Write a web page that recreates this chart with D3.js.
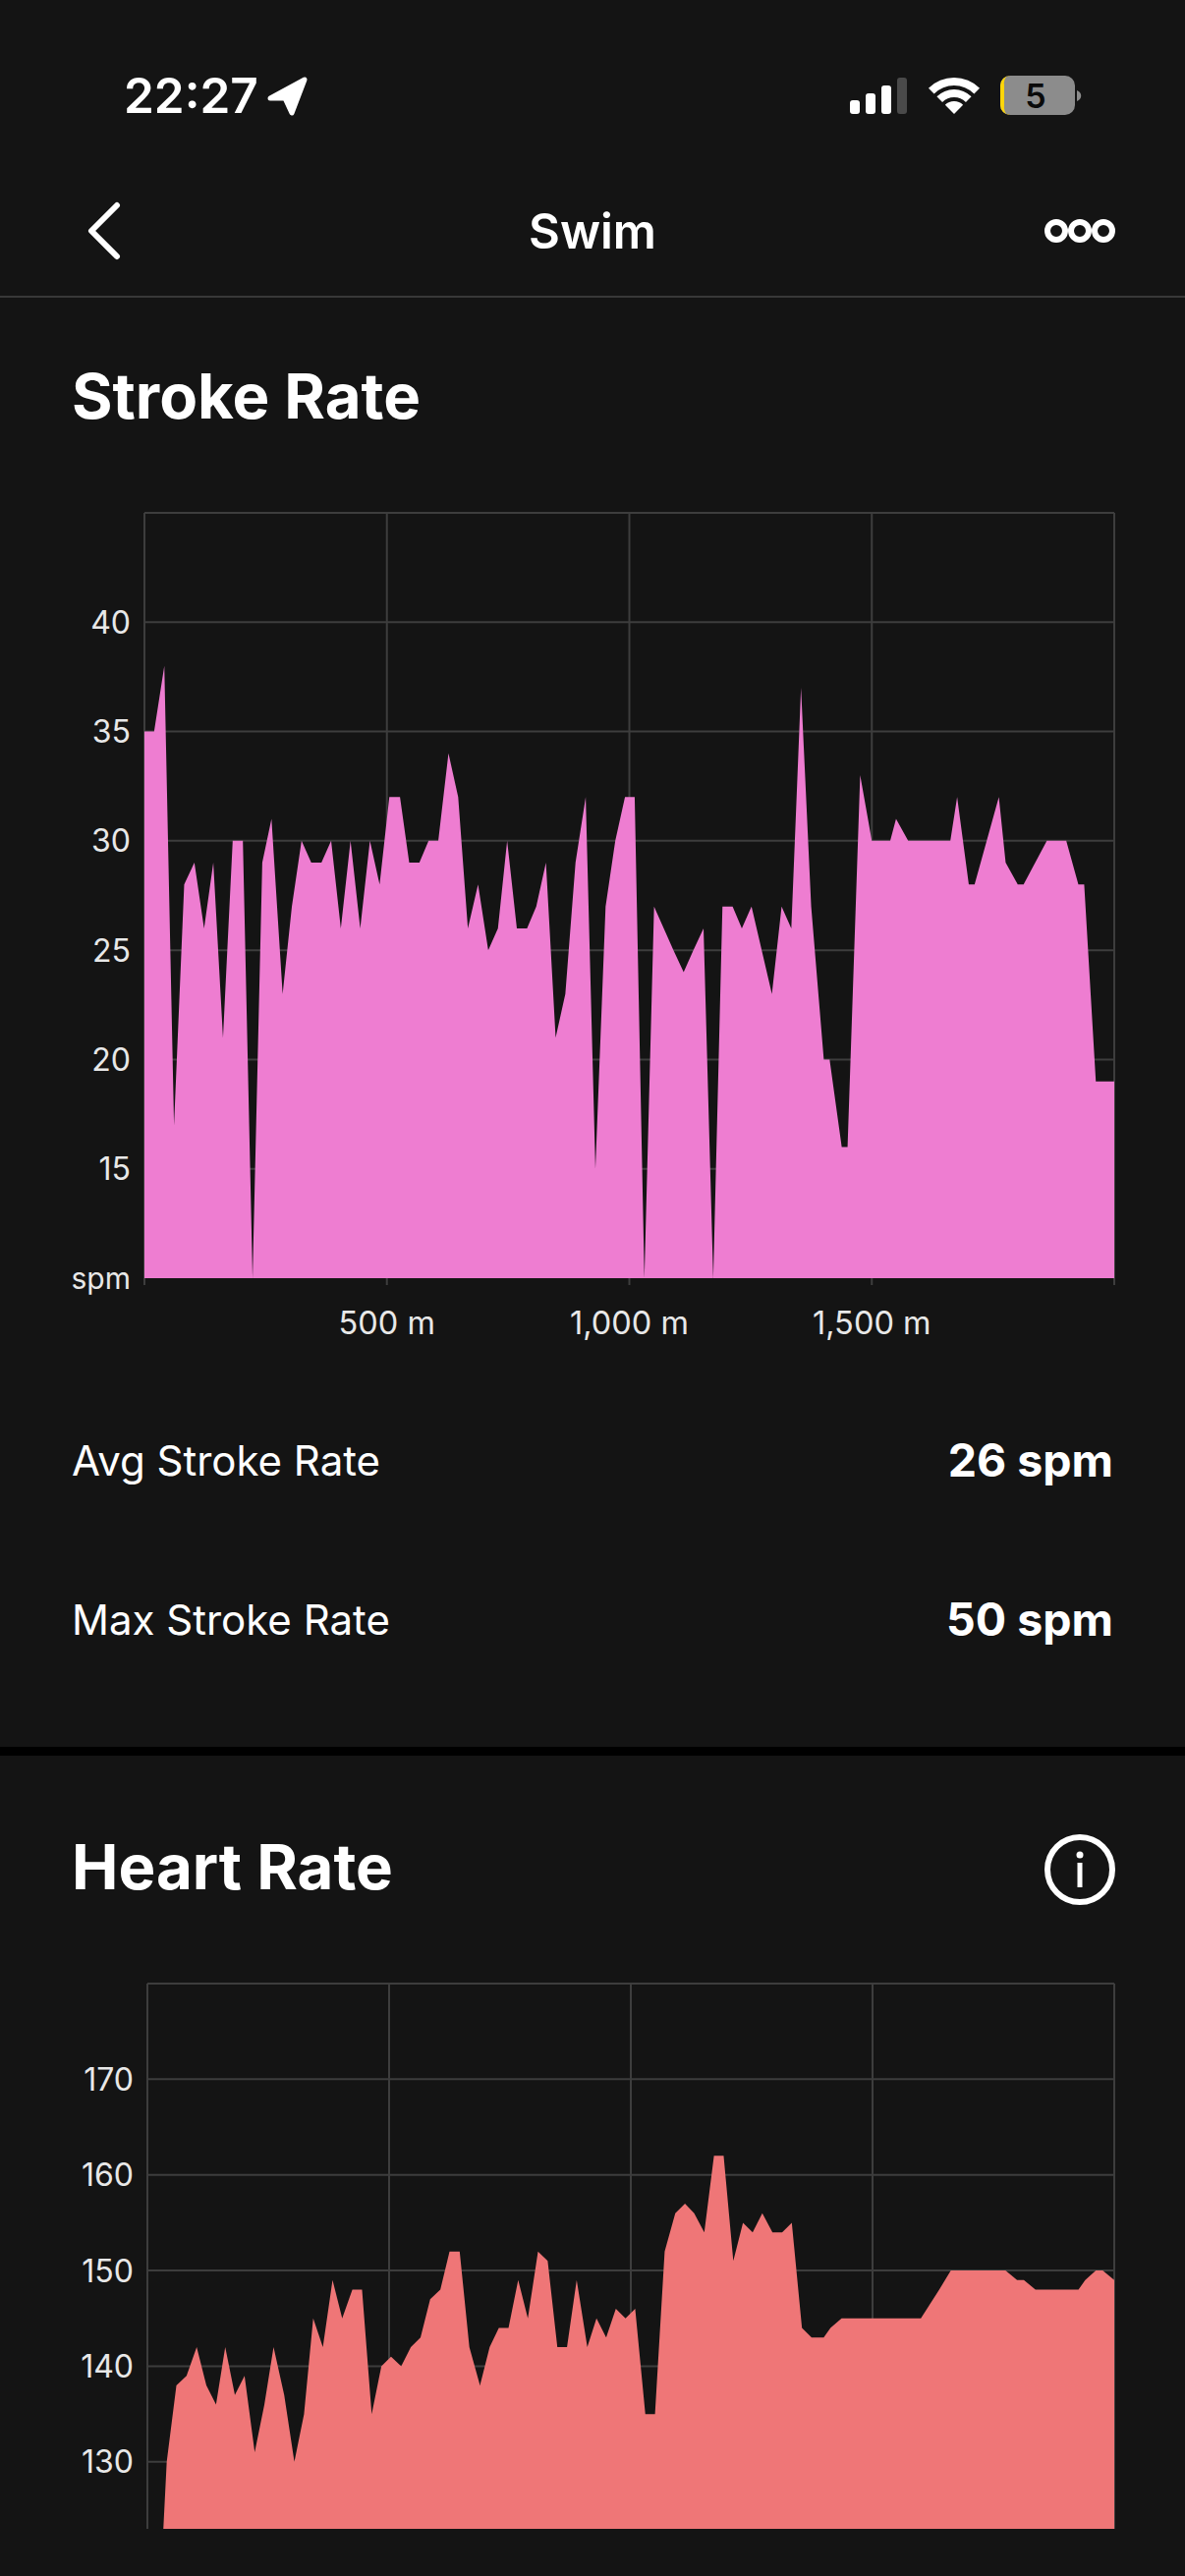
<!DOCTYPE html>
<html>
<head>
<meta charset="utf-8">
<script src="https://d3js.org/d3.v7.min.js"></script>
<style>
html, body { margin: 0; padding: 0; background: #141414; }
svg { display: block; font-family: Inter, "Noto Sans", sans-serif; }
text { fill: #fff; }
.grid line { stroke: #3d3d3d; stroke-width: 2; }
.tick-label { fill: #e8e8e8; }
</style>
</head>
<body>
<svg id="page" width="1206" height="2622"></svg>
<script>
// stroke rate (metres, spm)
const strokeDist = [0, 20, 41, 61, 82, 103, 123, 142, 162, 182, 203, 223, 243, 262, 285, 304, 324, 344, 365, 385, 405, 425, 445, 465, 485, 505, 527, 546, 567, 586, 606, 627, 647, 667, 688, 709, 729, 748, 768, 789, 808, 828, 848, 868, 889, 910, 930, 951, 971, 991, 1011, 1031, 1051, 1071, 1091, 1112, 1132, 1153, 1173, 1192, 1213, 1232, 1252, 1273, 1294, 1314, 1334, 1354, 1375, 1401, 1413, 1438, 1450, 1476, 1500, 1538, 1550, 1575, 1662, 1676, 1700, 1712, 1762, 1776, 1801, 1813, 1861, 1901, 1926, 1938, 1962, 2000];
const strokeRate = [35, 35, 38, 17, 28, 29, 26, 29, 21, 30, 30, 10, 29, 31, 23, 27, 30, 29, 29, 30, 26, 30, 26, 30, 28, 32, 32, 29, 29, 30, 30, 34, 32, 26, 28, 25, 26, 30, 26, 26, 27, 29, 21, 23, 29, 32, 15, 27, 30, 32, 32, 10, 27, 26, 25, 24, 25, 26, 10, 27, 27, 26, 27, 25, 23, 27, 26, 37, 27, 20, 20, 16, 16, 33, 30, 30, 31, 30, 30, 32, 28, 28, 32, 29, 28, 28, 30, 30, 28, 28, 19, 19];
const strokeTicks = [15, 20, 25, 30, 35, 40];

// heart rate (metres, bpm)
const heartDist = [33, 40, 60, 81, 102, 122, 142, 161, 181, 201, 222, 242, 261, 283, 304, 324, 343, 363, 383, 403, 424, 444, 464, 484, 504, 525, 545, 565, 585, 606, 625, 646, 666, 688, 708, 727, 747, 767, 787, 808, 828, 848, 868, 888, 910, 929, 949, 969, 989, 1009, 1030, 1050, 1070, 1092, 1112, 1131, 1152, 1172, 1192, 1212, 1232, 1252, 1272, 1293, 1313, 1333, 1354, 1374, 1399, 1413, 1436, 1600, 1638, 1662, 1775, 1799, 1813, 1837, 1926, 1940, 1962, 1976, 2000];
const heartRate = [123, 130, 138, 139, 142, 138, 136, 142, 137, 139, 131, 136, 142, 137, 130, 135, 145, 142, 149, 145, 148, 148, 135, 140, 141, 140, 142, 143, 147, 148, 152, 152, 142, 138, 142, 144, 144, 149, 145, 152, 151, 142, 142, 149, 142, 145, 143, 146, 145, 146, 135, 135, 152, 156, 157, 156, 154, 162, 162, 151, 155, 154, 156, 154, 154, 155, 144, 143, 143, 144, 145, 145, 148, 150, 150, 149, 149, 148, 148, 149, 150, 150, 149];
const heartTicks = [130, 140, 150, 160, 170];

const distTicks = [500, 1000, 1500];
const distLabels = ["500 m", "1,000 m", "1,500 m"];

const svg = d3.select("#page");
const fmtDist = d => distLabels[distTicks.indexOf(d)];

function drawChart(opts) {
    const { box, dist, vals, yDomain, yTicks, color } = opts;
    const x = d3.scaleLinear().domain([0, 2000]).range([box.left, box.right]);
    const y = d3.scaleLinear().domain(yDomain).range([box.bottom, box.top]);

    const g = svg.append("g");
    const grid = g.append("g").attr("class", "grid");
    // vertical grid, includes both ends
    grid.selectAll("line.v").data([0, 500, 1000, 1500, 2000]).join("line")
        .attr("class", "v")
        .attr("x1", d => x(d)).attr("x2", d => x(d))
        .attr("y1", box.top).attr("y2", box.bottom + (opts.xAxis ? 7 : 0));
    grid.selectAll("line.h").data(yTicks.concat([yDomain[1]])).join("line")
        .attr("class", "h")
        .attr("x1", box.left).attr("x2", box.right)
        .attr("y1", d => y(d)).attr("y2", d => y(d));

    const area = d3.area()
        .x((d, i) => x(dist[i]))
        .y0(box.bottom)
        .y1(d => y(d));
    g.append("path").datum(vals).attr("d", area).attr("fill", color);

    g.selectAll("text.ylab").data(yTicks).join("text")
        .attr("class", "ylab tick-label")
        .attr("x", box.left - 14)
        .attr("y", d => y(d))
        .attr("dy", "0.36em")
        .attr("text-anchor", "end")
        .attr("font-size", 32)
        .text(d => d);

    if (opts.xAxis) {
        g.selectAll("text.xlab").data(distTicks).join("text")
            .attr("class", "xlab tick-label")
            .attr("x", d => x(d))
            .attr("y", box.bottom + 57)
            .attr("text-anchor", "middle")
            .attr("font-size", 32.5)
            .text(fmtDist);
        g.append("text").attr("class", "tick-label")
            .attr("x", box.left - 14).attr("y", box.bottom)
            .attr("dy", "0.36em").attr("text-anchor", "end")
            .attr("font-size", 30).text("spm");
    }
}

drawChart({
    box: { left: 147, right: 1134, top: 522, bottom: 1301 },
    dist: strokeDist, vals: strokeRate, yDomain: [10, 45], yTicks: strokeTicks,
    color: "#ee7dd1", xAxis: true
});

drawChart({
    box: { left: 150, right: 1134, top: 2019, bottom: 2574 },
    dist: heartDist, vals: heartRate, yDomain: [123, 180], yTicks: heartTicks,
    color: "#ef7677", xAxis: false
});

// page text
function label(txt, x, y, size, weight, anchor) {
    return svg.append("text").attr("x", x).attr("y", y)
        .attr("font-size", size).attr("font-weight", weight)
        .attr("text-anchor", anchor || "start").text(txt);
}
label("22:27", 126, 115, 49.5, 600);
label("Swim", 603, 253, 49, 600, "middle");
label("Stroke Rate", 73, 426, 63.5, 700);
label("Avg Stroke Rate", 73, 1502, 42, 400);
label("26 spm", 1133, 1503, 46.5, 700, "end");
label("Max Stroke Rate", 73, 1664, 42, 400);
label("50 spm", 1133, 1665, 46.5, 700, "end");
label("Heart Rate", 73, 1923, 63.5, 700);

// header rule and section break
svg.append("rect").attr("x", 0).attr("y", 301).attr("width", 1206).attr("height", 2).attr("fill", "#383838");
svg.append("rect").attr("x", 0).attr("y", 1778).attr("width", 1206).attr("height", 9).attr("fill", "#000");

// back chevron
svg.append("path").attr("d", "M119 209 L93 235 L119 261").attr("fill", "none")
    .attr("stroke", "#fff").attr("stroke-width", 6).attr("stroke-linecap", "round").attr("stroke-linejoin", "round");
// more dots
[1075, 1099, 1123].forEach(cx => {
    svg.append("circle").attr("cx", cx).attr("cy", 235).attr("r", 9).attr("fill", "none")
        .attr("stroke", "#fff").attr("stroke-width", 6);
});
// location arrow
svg.append("path").attr("d", "M275 100 L310 81 L297 115 L290 100 Z").attr("fill", "#fff")
    .attr("stroke", "#fff").attr("stroke-width", 5).attr("stroke-linejoin", "round");

// signal bars
[[865, 14], [881, 21], [897, 29]].forEach(([bx, h]) => {
    svg.append("rect").attr("x", bx).attr("y", 116 - h).attr("width", 10).attr("height", h).attr("rx", 3).attr("fill", "#fff");
});
svg.append("rect").attr("x", 913).attr("y", 79).attr("width", 10).attr("height", 37).attr("rx", 3).attr("fill", "#4a4a4a");
// wifi
svg.append("g").attr("transform", "translate(971,116)").call(w => {
    [[29, 37], [17, 25]].forEach(([r0, r1]) => {
        w.append("path").attr("d", d3.arc()({ innerRadius: r0, outerRadius: r1, startAngle: -0.78, endAngle: 0.78, cornerRadius: 1 }))
            .attr("fill", "#fff");
    });
    w.append("path").attr("d", d3.arc()({ innerRadius: 0, outerRadius: 13, startAngle: -0.78, endAngle: 0.78 })).attr("fill", "#fff");
});
// battery
svg.append("rect").attr("x", 1018).attr("y", 77).attr("width", 76).attr("height", 40).attr("rx", 10).attr("fill", "#8c8c8c");
svg.append("path").attr("d", "M1028 77 A10 10 0 0 0 1018 87 L1018 107 A10 10 0 0 0 1028 117 L1026 117 A5 8 0 0 1 1022 107 L1022 87 A5 8 0 0 1 1026 77 Z").attr("fill", "#ffd60a");
svg.append("path").attr("d", "M1096 92 A7 6 0 0 1 1096 103 Z").attr("fill", "#8c8c8c");
svg.append("text").attr("x", 1054).attr("y", 110).attr("text-anchor", "middle")
    .attr("font-size", 34).attr("font-weight", 600).style("fill", "#0a0a0a").text("5");

// info icon
svg.append("circle").attr("cx", 1099).attr("cy", 1903).attr("r", 33).attr("fill", "none")
    .attr("stroke", "#fff").attr("stroke-width", 6);
svg.append("circle").attr("cx", 1099).attr("cy", 1888).attr("r", 3.5).attr("fill", "#fff");
svg.append("rect").attr("x", 1096.5).attr("y", 1896).attr("width", 5).attr("height", 25).attr("fill", "#fff");
</script>
</body>
</html>
